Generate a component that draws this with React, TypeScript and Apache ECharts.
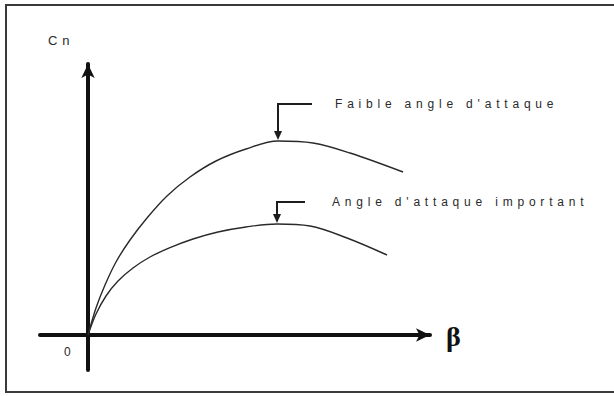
import React, { useEffect, useRef } from "react";
import * as echarts from "echarts";

// Yawing-moment coefficient Cn versus sideslip angle β, for two angles of attack
const betaFaible = [0, 0.8, 1.7, 2.8, 4.2, 5.9, 7.9, 10.2, 12.8, 15.8, 19.0, 22.5, 26.2, 31.5];
const cnFaible = [0, 0.135, 0.25, 0.365, 0.475, 0.585, 0.695, 0.79, 0.87, 0.93, 0.97, 0.96, 0.91, 0.815];
const betaImportant = [0, 0.8, 1.8, 3.0, 4.5, 6.2, 8.2, 10.5, 13.0, 15.8, 18.9, 22.2, 25.9, 29.9];
const cnImportant = [0, 0.105, 0.195, 0.27, 0.335, 0.39, 0.437, 0.48, 0.515, 0.54, 0.555, 0.545, 0.485, 0.4];
const seriesNames = ["Faible angle d'attaque", "Angle d'attaque important"];
// index of the maximum of each curve, pointed at by its callout
const peakIndex = [10, 10];
// Cn level at which each callout label sits
const calloutLevel = [1.155, 0.665];
const xAxisName = "β";
const yAxisName = "Cn";
const originLabel = "0";

const INK = "#1c1c1c";

export default function App() {
  const ref = useRef<HTMLDivElement>(null);

  useEffect(() => {
    if (!ref.current) return;
    const chart = echarts.init(ref.current, undefined, { renderer: "svg" });
    const betas = [betaFaible, betaImportant];
    const cns = [cnFaible, cnImportant];

    const axisCommon = {
      type: "value" as const,
      axisTick: { show: false },
      axisLabel: { show: false },
      splitLine: { show: false },
      axisLine: {
        show: true,
        onZero: true,
        symbol: ["none", "arrow"],
        symbolSize: [10, 14],
        lineStyle: { color: "#111", width: 4 },
      },
    };

    chart.setOption({
      animation: false,
      backgroundColor: "#fff",
      grid: { left: 40, right: 184, top: 64, bottom: 26 },
      xAxis: { ...axisCommon, min: -4.8, max: 34.2 },
      yAxis: { ...axisCommon, min: -0.175, max: 1.355 },
      series: seriesNames.map((name, i) => ({
        name,
        type: "line",
        smooth: 0.35,
        showSymbol: false,
        data: betas[i].map((b, k) => [b, cns[i][k]]),
        lineStyle: { color: "#2a2a2a", width: 1.4 },
        z: 3,
      })),
    });

    const elements: any[] = [
      {
        type: "rect",
        shape: { x: 6, y: 5, width: 640, height: 387 },
        style: { fill: "none", stroke: "#3a3a3a", lineWidth: 2 },
        silent: true,
      },
    ];

    const stubs = [34, 28];
    const textGap = [57, 55];
    seriesNames.forEach((name, i) => {
      const peak = chart.convertToPixel({ gridIndex: 0 }, [betas[i][peakIndex[i]], cns[i][peakIndex[i]]]);
      const top = chart.convertToPixel({ gridIndex: 0 }, [betas[i][peakIndex[i]], calloutLevel[i]]);
      const px = peak[0];
      const py = peak[1] - 1;
      const ty = top[1];
      elements.push(
        {
          type: "line",
          shape: { x1: px - 1, y1: ty, x2: px + stubs[i], y2: ty },
          style: { stroke: INK, lineWidth: 2 },
        },
        {
          type: "line",
          shape: { x1: px, y1: ty, x2: px, y2: py - 7 },
          style: { stroke: INK, lineWidth: 2 },
        },
        {
          type: "polygon",
          shape: { points: [[px - 4, py - 9], [px + 4, py - 9], [px, py]] },
          style: { fill: INK },
        },
        {
          type: "text",
          x: px + textGap[i],
          y: ty,
          style: {
            text: name,
            fill: "#2a2a2a",
            font: "12px 'Liberation Sans', Arial, sans-serif",
            verticalAlign: "middle",
            align: "left",
          },
        }
      );
    });

    const origin = chart.convertToPixel({ gridIndex: 0 }, [0, 0]);
    elements.push(
      {
        type: "text",
        x: origin[0] - 24,
        y: origin[1] + 17,
        style: {
          text: originLabel,
          fill: "#2a2a2a",
          font: "12px 'Liberation Sans', Arial, sans-serif",
          verticalAlign: "middle",
          align: "left",
        },
      },
      {
        type: "text",
        x: 48,
        y: 40,
        style: {
          text: yAxisName,
          fill: "#2a2a2a",
          font: "13px 'Liberation Sans', Arial, sans-serif",
          verticalAlign: "middle",
          align: "left",
        },
      },
      {
        type: "text",
        x: 446,
        y: origin[1] + 1,
        style: {
          text: xAxisName,
          fill: "#111",
          font: "bold 28px 'Liberation Serif', 'DejaVu Serif', serif",
          verticalAlign: "middle",
          align: "left",
        },
      }
    );

    chart.setOption({ graphic: { elements } });

    return () => chart.dispose();
  }, []);

  return (
    <>
      <style>{`#cn-beta text { letter-spacing: 4.8px; }`}</style>
      <div
        id="cn-beta"
        ref={ref}
        style={{ position: "fixed", left: 0, top: 0, width: 614, height: 396 }}
      />
    </>
  );
}
